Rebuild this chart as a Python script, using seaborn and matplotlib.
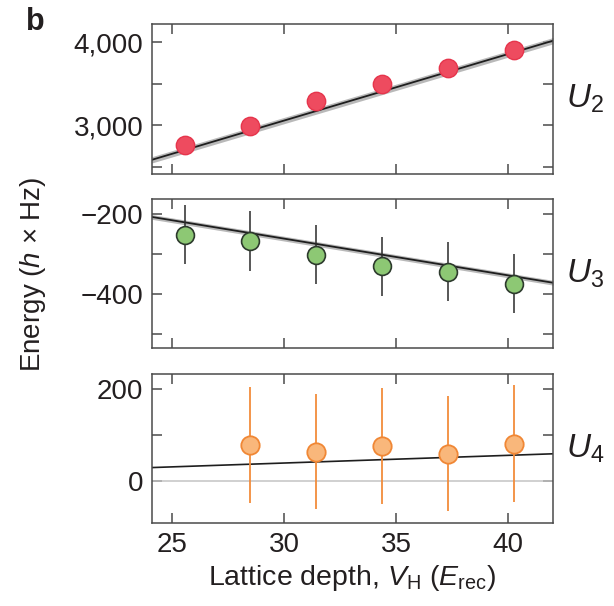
import numpy as np
import pandas as pd
import seaborn as sns
import matplotlib.pyplot as plt
from matplotlib.ticker import MultipleLocator, FixedLocator, StrMethodFormatter

# values
depth = [25.57, 28.49, 31.42, 34.37, 37.30, 40.27]
u2 = [2758, 2992, 3294, 3496, 3686, 3904]
u3 = [-252, -268, -302, -331, -345, -374]
u3_err = [74, 75, 74, 74, 74, 74]
depth4 = [28.49, 31.42, 34.37, 37.30, 40.27]
u4 = [78, 64, 76, 59, 81]
u4_err = [127, 126, 127, 125, 127]

# fitted lines (end points) and band half-widths
fit_x = [24.08, 42.0]
fit_u2 = [2585, 4019]
fit_u3 = [-207, -372]
fit_u4 = [29, 59]
band_u2 = 38
band_u3 = 6

sns.set_theme(style='ticks')
plt.rcParams['font.family'] = ['Liberation Sans', 'DejaVu Sans']
plt.rcParams['mathtext.fontset'] = 'custom'
plt.rcParams['mathtext.rm'] = 'Liberation Sans'
plt.rcParams['mathtext.it'] = 'Liberation Sans:italic'
plt.rcParams['text.color'] = '#231f20'
plt.rcParams['axes.labelcolor'] = '#231f20'
plt.rcParams['axes.edgecolor'] = '#4a4a4a'
plt.rcParams['axes.linewidth'] = 1.1

fig, axes = plt.subplots(3, 1, sharex=True, figsize=(6.14, 6.06), dpi=100)
fig.subplots_adjust(left=0.2471, right=0.9007, top=0.9604, bottom=0.1365, hspace=0.169)
ax1, ax2, ax3 = axes

line_col = '#1e1e1e'
band_col = '#a8a8a8'

# U2
ax1.fill_between(fit_x, np.array(fit_u2) - band_u2, np.array(fit_u2) + band_u2,
                 color=band_col, alpha=0.8, lw=0)
sns.lineplot(x=fit_x, y=fit_u2, ax=ax1, color=line_col, lw=1.3)
sns.scatterplot(x=depth, y=u2, ax=ax1, s=175, color='#ee4b5f',
                edgecolor='#e6354c', linewidth=1.0, zorder=5)

# U3
ax2.fill_between(fit_x, np.array(fit_u3) - band_u3, np.array(fit_u3) + band_u3,
                 color=band_col, alpha=0.8, lw=0)
sns.lineplot(x=fit_x, y=fit_u3, ax=ax2, color=line_col, lw=1.3)
ax2.errorbar(depth, u3, yerr=u3_err, fmt='none', ecolor='#2a2a2a', elinewidth=1.1, capsize=0)
sns.scatterplot(x=depth, y=u3, ax=ax2, s=165, color='#8dc874',
                edgecolor='#2d3a2d', linewidth=1.2, zorder=5)

# U4
ax3.axhline(0, color='#c4c4c4', lw=1.1, zorder=1)
sns.lineplot(x=fit_x, y=fit_u4, ax=ax3, color=line_col, lw=1.2)
ax3.errorbar(depth4, u4, yerr=u4_err, fmt='none', ecolor='#f28c3c', elinewidth=1.3, capsize=0)
sns.scatterplot(x=depth4, y=u4, ax=ax3, s=175, color='#f9b77b',
                edgecolor='#f08735', linewidth=1.3, zorder=5)

ax1.set_ylim(2420, 4220)
ax1.yaxis.set_major_locator(FixedLocator([3000, 4000]))
ax1.yaxis.set_minor_locator(FixedLocator([2500, 3500]))
ax1.yaxis.set_major_formatter(StrMethodFormatter('{x:,.0f}'))

ax2.set_ylim(-536.7, -161.7)
ax2.yaxis.set_major_locator(FixedLocator([-400, -200]))
ax2.yaxis.set_minor_locator(FixedLocator([-500, -300]))

ax3.set_ylim(-92.3, 233.4)
ax3.yaxis.set_major_locator(FixedLocator([0, 200]))
ax3.yaxis.set_minor_locator(FixedLocator([100]))

ax3.set_xlim(24.08, 42.0)
ax3.xaxis.set_major_locator(MultipleLocator(5))

labels = [r'$U_2$', r'$U_3$', r'$U_4$']
for ax, lab in zip(axes, labels):
    ax.tick_params(which='both', direction='in', top=True, right=True,
                   length=7, width=1.1, color='#4a4a4a', labelcolor='#231f20',
                   labelsize=20, pad=6)
    ax.set_ylabel('')
    ax.text(1.032, 0.5, lab, transform=ax.transAxes, fontsize=24,
            ha='left', va='center')

ax3.set_xlabel(r'Lattice depth, $V_{\mathrm{H}}$ ($E_{\mathrm{rec}}$)', fontsize=20.5, labelpad=4)
fig.text(0.054, 0.548, r'Energy ($h$ × Hz)', rotation=90, fontsize=20,
         ha='center', va='center')
fig.text(0.057, 0.964, 'b', fontsize=22, fontweight='bold', ha='center', va='center')

fig.savefig('out.png', dpi=100)
